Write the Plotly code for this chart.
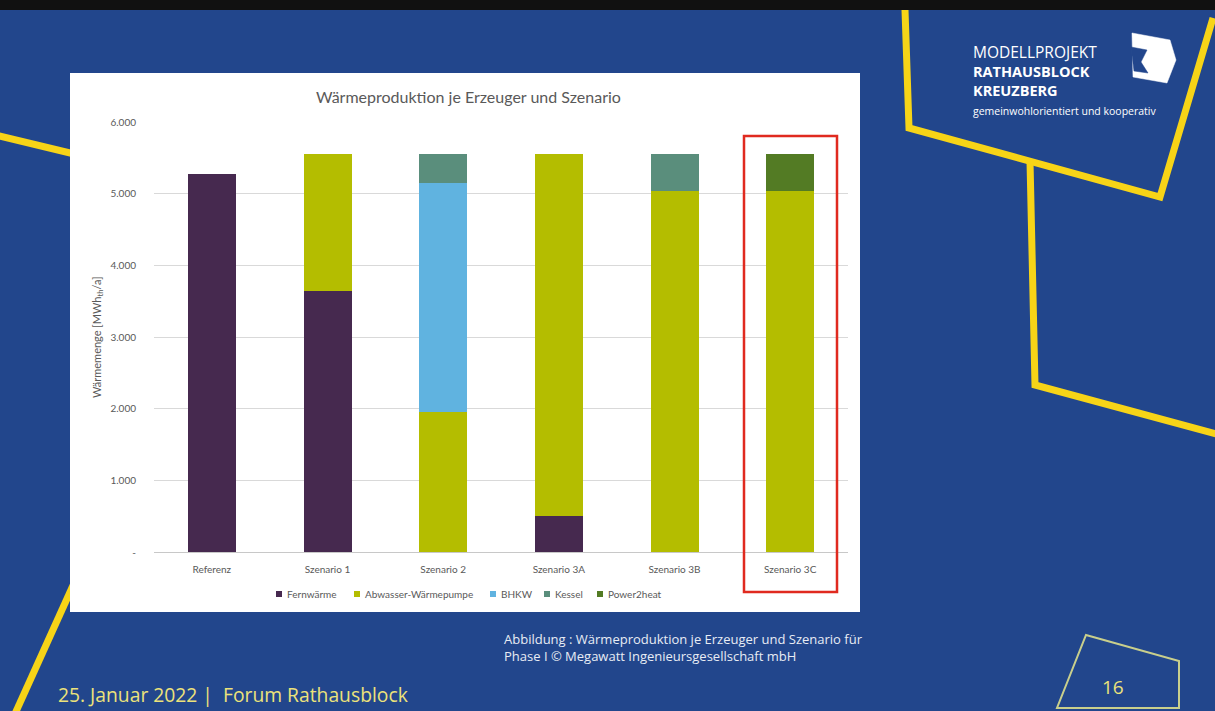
import plotly.graph_objects as go

categories = ["Referenz", "Szenario 1", "Szenario 2", "Szenario 3A", "Szenario 3B", "Szenario 3C"]
fernwaerme = [5280, 3645, 0, 500, 0, 0]
abwasser_wp = [0, 1905, 1950, 5050, 5040, 5040]
bhkw = [0, 0, 3200, 0, 0, 0]
kessel = [0, 0, 400, 0, 510, 0]
power2heat = [0, 0, 0, 0, 0, 510]

y_tickvals = [0, 1000, 2000, 3000, 4000, 5000, 6000]
y_ticktext = ["-", "1.000", "2.000", "3.000", "4.000", "5.000", "6.000"]

series_names = ["Fernwärme", "Abwasser-Wärmepumpe", "BHKW", "Kessel", "Power2heat"]
series_values = [fernwaerme, abwasser_wp, bhkw, kessel, power2heat]
series_colors = ["#46294f", "#b4bd00", "#60b3e0", "#5a8e7c", "#537b24"]
legend_marker_x = [279, 357, 493, 547, 600]

W, H = 1215, 711
PL, PR, PT, PB = 154, 848, 122, 552


def px(x):
    return (x - PL) / (PR - PL)


def py(y):
    return (PB - y) / (PB - PT)


FONT = "Lato, 'Open Sans', sans-serif"
SFONT = "'Open Sans', sans-serif"
BLUE = "#22468c"
YELLOW = "#f7d417"

fig = go.Figure()
for name, vals, col in zip(series_names, series_values, series_colors):
    fig.add_trace(go.Bar(x=categories, y=vals, name=name, showlegend=False,
                         marker=dict(color=col, line=dict(width=0))))

shapes = []


def seg(pts, color=YELLOW, width=7, layer="below", close=False, fill=None):
    d = "M " + " L ".join(f"{px(x):.5f},{py(y):.5f}" for x, y in pts) + (" Z" if close else "")
    s = dict(type="path", path=d, xref="paper", yref="paper", layer=layer,
             line=dict(color=color, width=width))
    if fill:
        s["fillcolor"] = fill
    return s


shapes.append(seg([(905, 10), (909, 128), (1160, 197), (1213, 18)]))
shapes.append(seg([(1030, 161), (1035, 385), (1220, 435)]))
shapes.append(seg([(-5, 135), (120, 165)]))
shapes.append(seg([(14, 716), (80, 570)]))
shapes.append(dict(type="rect", xref="paper", yref="paper", layer="below",
                   x0=px(0), x1=px(W), y0=py(0), y1=py(10), fillcolor="#111111", line=dict(width=0)))
shapes.append(dict(type="rect", xref="paper", yref="paper", layer="below",
                   x0=px(70), x1=px(860), y0=py(612), y1=py(73), fillcolor="white", line=dict(width=0)))
shapes.append(dict(type="rect", xref="paper", yref="paper", layer="above",
                   x0=px(744), x1=px(837), y0=py(592), y1=py(136),
                   fillcolor="rgba(0,0,0,0)", line=dict(color="#e02a1f", width=2.5)))
shapes.append(seg([(1086, 635), (1179, 661), (1179, 708), (1057, 708)],
                  color="#c9cf8c", width=2, layer="above", close=True))
# logo
shapes.append(seg([(1132, 33), (1170, 40), (1176, 60), (1167, 83), (1133, 77)],
                  color="white", width=0.5, layer="above", close=True, fill="white"))
shapes.append(seg([(1131, 47), (1147, 50), (1141, 62), (1148, 73), (1134, 71)],
                  color=BLUE, width=0.5, layer="above", close=True, fill=BLUE))

ann = []


def text(x, y, t, size, color, xanchor="left", yanchor="middle", family=FONT, angle=0):
    ann.append(dict(x=px(x), y=py(y), xref="paper", yref="paper", text=t, align="left",
                    showarrow=False, xanchor=xanchor, yanchor=yanchor, textangle=angle,
                    font=dict(size=size, color=color, family=family)))


# legend drawn as small squares + labels
for name, col, mx in zip(series_names, series_colors, legend_marker_x):
    shapes.append(dict(type="rect", xref="paper", yref="paper", layer="above",
                       x0=px(mx - 3), x1=px(mx + 3), y0=py(597), y1=py(591),
                       fillcolor=col, line=dict(width=0)))
    text(mx + 6, 594, name, 10, "#595959")

text(468, 96, "Wärmeproduktion je Erzeuger und Szenario", 16, "#595959", xanchor="center")
text(97, 337, "Wärmemenge [MWh<sub>th</sub>/a]", 11, "#595959", xanchor="center", angle=-90)
text(971, 39,
     "<span style='font-size:15.5px'>MODELLPROJEKT</span><br><b>RATHAUSBLOCK</b><br><b>KREUZBERG</b><br>"
     "<span style='font-size:10.5px'>gemeinwohlorientiert und kooperativ</span>",
     14.5, "white", yanchor="top", family=SFONT)
text(502, 647, "Abbildung : Wärmeproduktion je Erzeuger und Szenario für<br>"
     "Phase I © Megawatt Ingenieursgesellschaft mbH", 13, "#e8ecf4", family=SFONT)
text(56, 694, "25. Januar 2022 |  Forum Rathausblock", 19.3, "#ece27a", family=SFONT)
text(1113, 687, "16", 19, "#ece27a", xanchor="center", family=SFONT)

fig.update_layout(
    width=W, height=H,
    margin=dict(l=PL, r=W - PR, t=PT, b=H - PB, pad=0),
    paper_bgcolor=BLUE, plot_bgcolor="rgba(0,0,0,0)",
    barmode="stack", bargap=0.585,
    font=dict(family=FONT, size=10, color="#595959"),
    showlegend=False,
    shapes=shapes, annotations=ann,
)
fig.update_xaxes(showgrid=False, showline=True, linecolor="#c8c8c8", linewidth=1,
                 ticks="", tickfont=dict(size=10, color="#595959"), ticklabelstandoff=8,
                 fixedrange=True)
fig.update_yaxes(range=[0, 6000], tickvals=y_tickvals, ticktext=y_ticktext,
                 showgrid=True, gridcolor="#d9d9d9", gridwidth=1, zeroline=False,
                 showline=False, ticks="", tickfont=dict(size=10, color="#595959"),
                 ticklabelstandoff=17, fixedrange=True)

fig.write_html("out.html", config={"displayModeBar": False},
               post_script="document.body.style.margin='0px';document.body.style.overflow='hidden';")
